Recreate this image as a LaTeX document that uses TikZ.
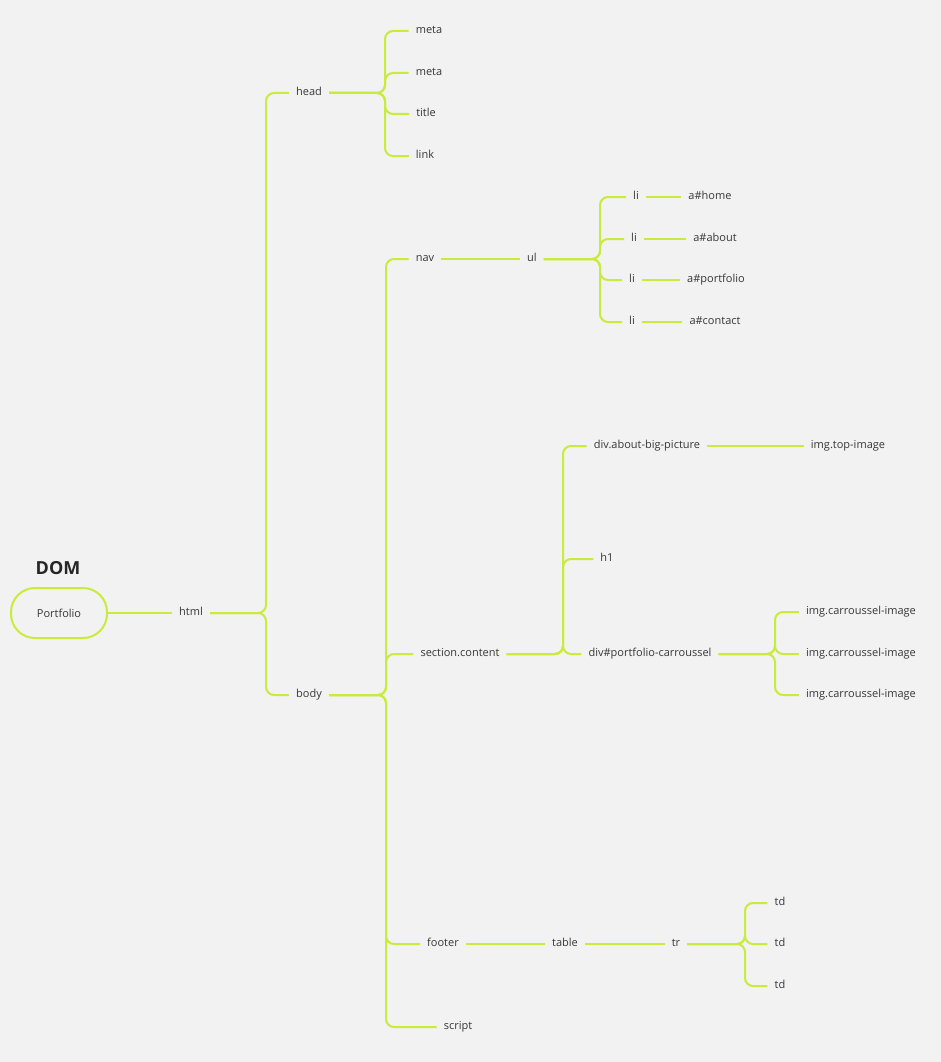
\documentclass[tikz,border=0pt]{standalone}
\usepackage{fontspec}
\setmainfont{Open Sans}
\definecolor{lime}{RGB}{200,235,60}
\definecolor{bg}{RGB}{242,242,242}
\definecolor{txt}{RGB}{55,55,55}
\begin{document}
\begin{tikzpicture}[x=1pt,y=-1pt,
  lbl/.style={text=txt,font=\fontsize{11}{13}\selectfont,inner xsep=7pt,inner ysep=0pt,text height=7.5pt,text depth=2.5pt},
  conn/.style={draw=lime,line width=2pt,rounded corners=8pt},
  rootbox/.style={draw=lime,line width=2pt,rounded corners=24pt,minimum width=96pt,minimum height=50pt,text=txt,font=\fontsize{11}{13}\selectfont}]
\fill[bg] (0,0) rectangle (941,1062);
\useasboundingbox (0,0) rectangle (941,1062);
\begin{scope}[yshift=-1pt]
% nodes
\node[rootbox] (root) at (59,612) {Portfolio};
\node[font=\fontsize{18}{21}\selectfont\bfseries,text=black!85] (dom) at (58,567) {DOM};
\node[lbl] (html) at (191,612) {html};
\node[lbl] (head) at (309,92) {head};
\node[lbl] (body) at (309,694) {body};
\node[lbl] (meta1) at (429,30) {meta};
\node[lbl] (meta2) at (429,72) {meta};
\node[lbl] (title) at (426,113) {title};
\node[lbl] (link) at (425,155) {link};
\node[lbl] (nav) at (425,258) {nav};
\node[lbl] (sec) at (460,653) {section.content};
\node[lbl] (footer) at (443,943) {footer};
\node[lbl] (script) at (458,1026) {script};
\node[lbl] (ul) at (532,258) {ul};
\node[lbl] (li1) at (636,196) {li};
\node[lbl] (li2) at (634,238) {li};
\node[lbl] (li3) at (632,279) {li};
\node[lbl] (li4) at (632,321) {li};
\node[lbl] (ah) at (710,196) {a\#home};
\node[lbl] (aa) at (715,238) {a\#about};
\node[lbl] (ap) at (716,279) {a\#portfolio};
\node[lbl] (ac) at (715,321) {a\#contact};
\node[lbl] (divabout) at (647,445) {div.about-big-picture};
\node[lbl] (hone) at (607,558) {h1};
\node[lbl] (divport) at (650,653) {div\#portfolio-carroussel};
\node[lbl] (imgtop) at (848,445) {img.top-image};
\node[lbl] (ic1) at (861,611) {img.carroussel-image};
\node[lbl] (ic2) at (861,653) {img.carroussel-image};
\node[lbl] (ic3) at (861,694) {img.carroussel-image};
\node[lbl] (table) at (565,943) {table};
\node[lbl] (tr) at (676,943) {tr};
\node[lbl] (td1) at (780,902) {td};
\node[lbl] (td2) at (780,943) {td};
\node[lbl] (td3) at (780,985) {td};
% junctions
\coordinate (jhtml) at (266,612);
\coordinate (jhead) at (385,92);
\coordinate (jbody) at (386,694);
\coordinate (jul) at (600,258);
\coordinate (jsec) at (563,653);
\coordinate (jport) at (775,653);
\coordinate (jtr) at (745,943);
% connectors
\draw[conn] (root.east) -- (html.west);
\foreach \c in {head,body} \draw[conn] (html.east) -- (jhtml) |- (\c.west);
\foreach \c in {meta1,meta2,title,link} \draw[conn] (head.east) -- (jhead) |- (\c.west);
\foreach \c in {nav,sec,footer,script} \draw[conn] (body.east) -- (jbody) |- (\c.west);
\draw[conn] (nav.east) -- (ul.west);
\foreach \c in {li1,li2,li3,li4} \draw[conn] (ul.east) -- (jul) |- (\c.west);
\draw[conn] (li1.east) -- (ah.west);
\draw[conn] (li2.east) -- (aa.west);
\draw[conn] (li3.east) -- (ap.west);
\draw[conn] (li4.east) -- (ac.west);
\foreach \c in {divabout,hone,divport} \draw[conn] (sec.east) -- (jsec) |- (\c.west);
\draw[conn] (divabout.east) -- (imgtop.west);
\foreach \c in {ic1,ic2,ic3} \draw[conn] (divport.east) -- (jport) |- (\c.west);
\draw[conn] (footer.east) -- (table.west);
\draw[conn] (table.east) -- (tr.west);
\foreach \c in {td1,td2,td3} \draw[conn] (tr.east) -- (jtr) |- (\c.west);
\end{scope}
\end{tikzpicture}
\end{document}
